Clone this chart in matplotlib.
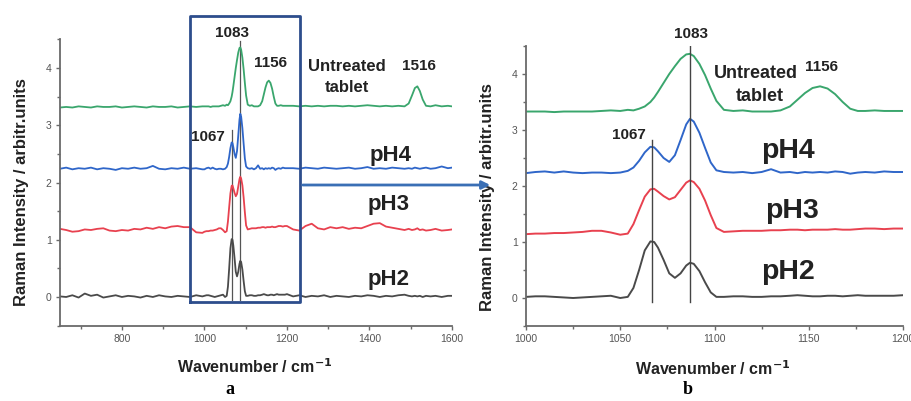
import matplotlib
matplotlib.use("Agg")
import matplotlib.pyplot as plt
from matplotlib.ticker import MultipleLocator

plt.rcParams['font.family'] = ['Liberation Sans', 'DejaVu Sans']

# ---------------- data ----------------
wavenumber = [650, 665, 680, 695, 710, 725, 740, 755, 770, 785, 800, 815, 830, 845, 860, 875, 890, 905, 920, 935, 950, 965, 980, 995,
              1000, 1005, 1010, 1015, 1020, 1025, 1030, 1035, 1040, 1045, 1050, 1054, 1057, 1060, 1063, 1066, 1068, 1070, 1073, 1076,
              1079, 1082, 1085, 1087, 1089, 1092, 1095, 1098, 1101, 1105, 1110, 1115, 1120, 1125, 1130, 1135, 1140, 1144, 1148, 1152,
              1156, 1160, 1164, 1168, 1172, 1176, 1180, 1185, 1190, 1195, 1200,
              1215, 1230, 1245, 1260, 1275, 1290, 1305, 1320, 1335, 1350, 1365, 1380, 1395, 1410, 1425, 1440, 1455, 1470, 1485, 1495,
              1503, 1510, 1516, 1522, 1529, 1537, 1548, 1560, 1575, 1590, 1600]

untreated = [3.31, 3.32, 3.31, 3.33, 3.32, 3.31, 3.33, 3.32, 3.32, 3.33, 3.31, 3.32, 3.33, 3.32, 3.31, 3.33, 3.32, 3.32, 3.33, 3.31, 3.32, 3.33, 3.32, 3.33,
             3.33, 3.33, 3.33, 3.32, 3.33, 3.33, 3.33, 3.33, 3.34, 3.35, 3.34, 3.36, 3.35, 3.38, 3.42, 3.50, 3.58, 3.68, 3.84, 4.00,
             4.14, 4.27, 4.35, 4.36, 4.32, 4.18, 3.98, 3.74, 3.52, 3.36, 3.34, 3.35, 3.33, 3.33, 3.33, 3.35, 3.42, 3.54, 3.66, 3.75,
             3.78, 3.74, 3.64, 3.50, 3.38, 3.34, 3.34, 3.35, 3.34, 3.34, 3.34,
             3.34, 3.33, 3.34, 3.33, 3.34, 3.33, 3.34, 3.34, 3.33, 3.34, 3.33, 3.34, 3.35, 3.34, 3.33, 3.34, 3.33, 3.34, 3.33, 3.38,
             3.52, 3.65, 3.68, 3.60, 3.45, 3.34, 3.33, 3.35, 3.33, 3.34, 3.33]

ph4 = [2.24, 2.26, 2.23, 2.25, 2.24, 2.26, 2.23, 2.25, 2.24, 2.22, 2.25, 2.24, 2.26, 2.24, 2.25, 2.29, 2.24, 2.23, 2.25, 2.24, 2.26, 2.24, 2.25, 2.23,
       2.23, 2.25, 2.26, 2.24, 2.26, 2.24, 2.23, 2.24, 2.24, 2.23, 2.24, 2.27, 2.33, 2.45, 2.60, 2.70, 2.69, 2.62, 2.50, 2.43,
       2.55, 2.82, 3.10, 3.20, 3.15, 2.95, 2.68, 2.42, 2.28, 2.25, 2.24, 2.25, 2.23, 2.25, 2.30, 2.24, 2.25, 2.23, 2.25, 2.24,
       2.25, 2.24, 2.26, 2.25, 2.22, 2.24, 2.25, 2.24, 2.26, 2.25, 2.25,
       2.25, 2.24, 2.26, 2.25, 2.24, 2.26, 2.25, 2.24, 2.25, 2.26, 2.24, 2.25, 2.27, 2.24, 2.25, 2.24, 2.26, 2.25, 2.24, 2.25,
       2.24, 2.26, 2.25, 2.24, 2.25, 2.26, 2.24, 2.25, 2.28, 2.25, 2.26]

ph3 = [1.19, 1.17, 1.14, 1.15, 1.18, 1.17, 1.19, 1.20, 1.16, 1.15, 1.17, 1.16, 1.19, 1.18, 1.21, 1.19, 1.22, 1.20, 1.23, 1.24, 1.22, 1.22, 1.13, 1.12,
       1.14, 1.15, 1.15, 1.16, 1.16, 1.17, 1.18, 1.20, 1.20, 1.17, 1.13, 1.15, 1.32, 1.57, 1.81, 1.94, 1.95, 1.90, 1.82, 1.76,
       1.80, 1.93, 2.06, 2.10, 2.07, 1.95, 1.74, 1.48, 1.25, 1.18, 1.19, 1.20, 1.20, 1.20, 1.21, 1.21, 1.22, 1.22, 1.21, 1.22,
       1.22, 1.22, 1.23, 1.22, 1.22, 1.23, 1.24, 1.24, 1.23, 1.24, 1.24,
       1.18, 1.16, 1.24, 1.28, 1.20, 1.18, 1.22, 1.20, 1.22, 1.19, 1.21, 1.20, 1.24, 1.28, 1.29, 1.23, 1.21, 1.19, 1.17, 1.19,
       1.17, 1.18, 1.20, 1.17, 1.18, 1.16, 1.17, 1.19, 1.16, 1.17, 1.18]

ph2 = [0.01, 0.00, 0.03, -0.01, 0.06, 0.02, 0.04, -0.01, 0.01, 0.03, 0.00, 0.02, 0.01, -0.01, 0.02, 0.00, 0.03, 0.01, 0.00, 0.02, 0.01, 0.00, 0.03, 0.01,
       0.02, 0.03, 0.03, 0.02, 0.01, 0.00, 0.01, 0.02, 0.03, 0.04, 0.00, 0.02, 0.18, 0.50, 0.85, 1.01, 1.00, 0.90, 0.68, 0.44,
       0.36, 0.44, 0.58, 0.63, 0.61, 0.48, 0.28, 0.10, 0.02, 0.02, 0.03, 0.03, 0.02, 0.02, 0.03, 0.03, 0.04, 0.05, 0.04, 0.03,
       0.03, 0.04, 0.04, 0.03, 0.04, 0.05, 0.04, 0.04, 0.04, 0.04, 0.05,
       0.01, 0.03, 0.00, 0.02, 0.01, 0.03, 0.00, 0.02, 0.01, 0.00, 0.02, 0.01, 0.03, 0.02, 0.00, 0.02, 0.01, 0.03, 0.04, 0.02,
       0.01, 0.02, 0.01, 0.02, 0.00, 0.02, 0.01, 0.02, 0.00, 0.02, 0.02]

series = [("pH2", ph2, "#4a4a4a"), ("pH3", ph3, "#e8414f"),
          ("pH4", ph4, "#2f66c9"), ("Untreated tablet", untreated, "#3aa66d")]

peak_lines = [1067, 1087]
line_tops_a = [2.92, 4.48]
line_tops_b = [2.82, 4.58]

# ---------------- figure ----------------
fig = plt.figure(figsize=(9.11, 4.01), dpi=100)
fig.patch.set_facecolor("white")

ax1 = fig.add_axes([60 / 911, 1 - 325.6 / 401, 392 / 911, 286.2 / 401])
ax2 = fig.add_axes([526 / 911, 1 - 326 / 401, 377 / 911, 280 / 401])

def style(ax, xlim, major, minor):
    ax.set_xlim(*xlim)
    ax.set_ylim(-0.5, 4.5)
    for s in ["top", "right"]:
        ax.spines[s].set_visible(False)
    for s in ["left", "bottom"]:
        ax.spines[s].set_color("#6a6a6a")
        ax.spines[s].set_linewidth(1.3)
    ax.xaxis.set_major_locator(MultipleLocator(major))
    ax.xaxis.set_minor_locator(MultipleLocator(minor))
    ax.yaxis.set_major_locator(MultipleLocator(1))
    ax.yaxis.set_minor_locator(MultipleLocator(0.5))
    ax.tick_params(which="major", length=3, width=1, color="#6a6a6a",
                   labelsize=7.5, labelcolor="#555555", pad=3)
    ax.tick_params(which="minor", length=2, width=1, color="#6a6a6a")
    ax.set_ylabel("Raman Intensity / arbitr.units", fontsize=12, fontweight="bold",
                  color="#222222")

style(ax1, (650, 1600), 200, 100)
style(ax2, (1000, 1200), 50, 25)

for name, vals, col in series:
    ax1.plot(wavenumber, vals, color=col, lw=1.3)
    ax2.plot(wavenumber, vals, color=col, lw=1.4)

for x, top in zip(peak_lines, line_tops_a):
    ax1.plot([x, x], [-0.05, top], color="#555555", lw=0.9, zorder=1)
for x, top in zip(peak_lines, line_tops_b):
    ax2.plot([x, x], [-0.08, top], color="#444444", lw=1.0, zorder=3)

ax1.set_xlabel("Wavenumber / cm$^{\\mathbf{-1}}$", fontsize=11.5, fontweight="bold", color="#222222")
ax2.set_xlabel("Wavenumber / cm$^{\\mathbf{-1}}$", fontsize=11.5, fontweight="bold", color="#222222")
ax1.xaxis.set_label_coords(0.497, -0.112)
ax2.xaxis.set_label_coords(0.496, -0.118)
ax1.yaxis.set_label_coords(-0.079, 0.467)
ax2.yaxis.set_label_coords(-0.082, 0.46)

tk = dict(fontweight="bold", color="#222222", ha="center", va="center")
# panel a annotations
ax1.text(1067, 4.62, "1083", fontsize=11, **tk)
ax1.text(1160, 4.08, "1156", fontsize=11, **tk)
ax1.text(1346, 4.03, "Untreated", fontsize=12, **tk)
ax1.text(1346, 3.66, "tablet", fontsize=12, **tk)
ax1.text(1521, 4.03, "1516", fontsize=11, **tk)
ax1.text(1008, 2.80, "1067", fontsize=11, **tk)
ax1.text(1450, 2.48, "pH4", fontsize=16, **tk)
ax1.text(1447, 1.61, "pH3", fontsize=16, **tk)
ax1.text(1447, 0.30, "pH2", fontsize=16, **tk)

# panel b annotations
ax2.text(1087.5, 4.72, "1083", fontsize=11, **tk)
ax2.text(1122, 4.00, "Untreated", fontsize=13, **tk)
ax2.text(1124, 3.60, "tablet", fontsize=13, **tk)
ax2.text(1157, 4.13, "1156", fontsize=11, **tk)
ax2.text(1054.5, 2.91, "1067", fontsize=11, **tk)
ax2.text(1139, 2.62, "pH4", fontsize=20.5, **tk)
ax2.text(1141, 1.56, "pH3", fontsize=20.5, **tk)
ax2.text(1139, 0.47, "pH2", fontsize=20.5, **tk)

# zoom box on panel a
box_col = "#2d4d8c"
ax1.plot([966, 1231, 1231, 966, 966], [-0.09, -0.09, 4.91, 4.91, -0.09],
         color=box_col, lw=2, clip_on=False, zorder=5)

# arrow from box to panel b
fig.add_artist(matplotlib.patches.FancyArrowPatch(
    (300 / 911, 1 - 185 / 401), (493 / 911, 1 - 185 / 401),
    transform=fig.transFigure, arrowstyle="-|>", mutation_scale=12,
    color="#3a6fb5", lw=2))

# panel letters
fig.text(230 / 911, 1 - 389 / 401, "a", fontsize=13, fontweight="bold",
         family="Liberation Serif", ha="center", va="center")
fig.text(688 / 911, 1 - 390 / 401, "b", fontsize=13, fontweight="bold",
         family="Liberation Serif", ha="center", va="center")

fig.savefig("out.png", dpi=100, facecolor="white")
